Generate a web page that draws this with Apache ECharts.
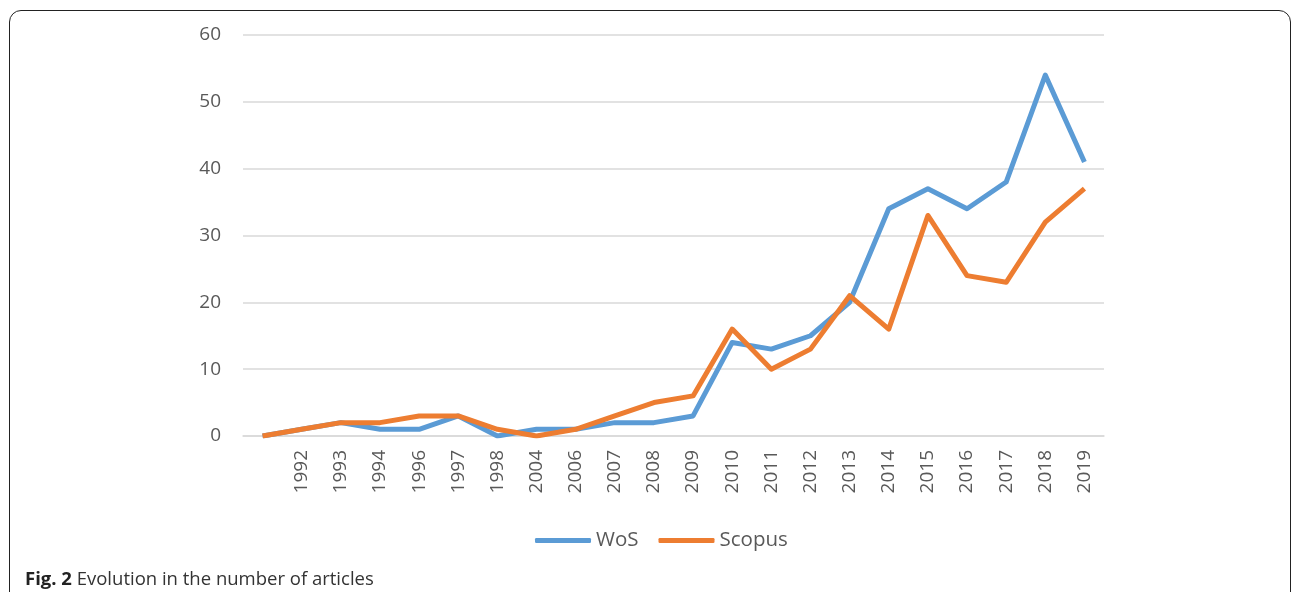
<!DOCTYPE html>
<html><head><meta charset="utf-8">
<script src="https://cdn.jsdelivr.net/npm/echarts@6/dist/echarts.min.js"></script>
<style>
html,body{margin:0;padding:0;background:#fff;}
#frame{position:absolute;left:9px;top:10px;width:1282px;height:640px;border:1.5px solid #222;border-radius:12px;box-sizing:border-box;}
#c{position:absolute;left:0;top:0;width:1292px;height:592px;}
</style></head>
<body>
<div id="frame"></div>
<div id="c"></div>
<script>
const categories = ['', '1992','1993','1994','1996','1997','1998','2004','2006','2007','2008','2009','2010','2011','2012','2013','2014','2015','2016','2017','2018','2019'];
const wos =    [0,1,2,1,1,3,0,1,1,2,2,3,14,13,15,20,34,37,34,38,54,41];
const scopus = [0,1,2,2,3,3,1,0,1,3,5,6,16,10,13,21,16,33,24,23,32,37];
const yTicks = [0,10,20,30,40,50,60];

const chart = echarts.init(document.getElementById('c'), null, {renderer:'canvas'});
const font = '"Open Sans", "Noto Sans", sans-serif';
chart.setOption({
  animation:false,
  textStyle:{fontFamily:font},
  title:{
    left:25, top:570, padding:0,
    text:'{b|Fig. 2} Evolution in the number of articles',
    textStyle:{fontSize:18.5, fontWeight:'normal', color:'#333', fontFamily:font,
      rich:{b:{fontSize:18.5, fontWeight:'bold', color:'#222', fontFamily:font}}}
  },
  legend:{
    top:530, left:535, itemWidth:56, itemHeight:5, itemGap:20,
    icon:'roundRect', padding:0,
    textStyle:{fontSize:20.5, color:'#595959', fontFamily:font},
    data:['WoS','Scopus']
  },
  grid:{left:243, right:188, top:35, bottom:156, containLabel:false},
  xAxis:{
    type:'category', data:categories, boundaryGap:true,
    axisLine:{lineStyle:{color:'#d9d9d9', width:1.5}},
    axisTick:{show:false},
    axisLabel:{rotate:90, color:'#595959', fontSize:19, margin:14, interval:0, fontFamily:font}
  },
  yAxis:{
    type:'value', min:yTicks[0], max:yTicks[yTicks.length-1], interval:10,
    axisLine:{show:false}, axisTick:{show:false},
    splitLine:{lineStyle:{color:'#d9d9d9', width:1.5}},
    axisLabel:{color:'#595959', fontSize:19, margin:22, fontFamily:font}
  },
  series:[
    {name:'WoS', type:'line', data:wos, symbol:'none', lineStyle:{width:5, color:'#5B9BD5', join:'round'}, itemStyle:{color:'#5B9BD5'}},
    {name:'Scopus', type:'line', data:scopus, symbol:'none', lineStyle:{width:5, color:'#ED7D31', join:'round'}, itemStyle:{color:'#ED7D31'}}
  ]
});
</script>
</body></html>
